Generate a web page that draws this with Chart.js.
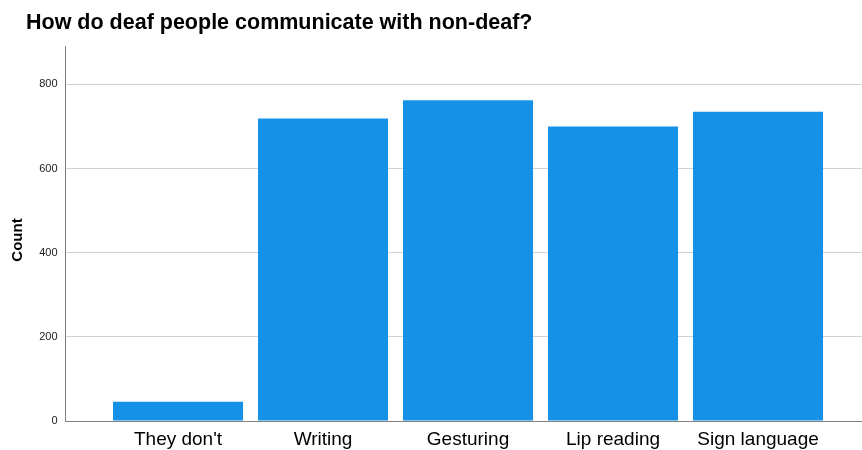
<!DOCTYPE html>
<html>
<head>
<meta charset="utf-8">
<script src="https://cdn.jsdelivr.net/npm/chart.js@4/dist/chart.umd.min.js"></script>
<style>
  html, body { margin: 0; padding: 0; background: #ffffff; }
  #wrap { width: 862px; height: 450px; position: relative; }
</style>
</head>
<body>
<div id="wrap"><canvas id="c" width="862" height="450"></canvas></div>
<script>
const categories = ["They don't", "Writing", "Gesturing", "Lip reading", "Sign language"];
const counts = [46, 719, 762, 700, 735];
const yTicks = [0, 200, 400, 600, 800];
const chartTitle = "How do deaf people communicate with non-deaf?";
const yTitle = "Count";

const FONT = "'Liberation Sans', Arial, sans-serif";

const textPlugin = {
  id: 'chartTexts',
  afterDraw(chart) {
    const ctx = chart.ctx;
    ctx.save();
    ctx.font = "bold 21.5px " + FONT;
    ctx.fillStyle = "#000000";
    ctx.textAlign = "left";
    ctx.textBaseline = "alphabetic";
    ctx.fillText(chartTitle, 26, 28.5);
    ctx.restore();

    ctx.save();
    ctx.font = "bold 15px " + FONT;
    ctx.fillStyle = "#000000";
    ctx.textAlign = "center";
    ctx.textBaseline = "middle";
    ctx.translate(18, 240);
    ctx.rotate(-Math.PI / 2);
    ctx.fillText(yTitle, 0, 0);
    ctx.restore();
  }
};

new Chart(document.getElementById('c'), {
  type: 'bar',
  data: {
    datasets: [{
      data: counts.map((v, i) => ({ x: i, y: v })),
      backgroundColor: '#1591e8',
      borderColor: '#1591e8',
      borderWidth: 0,
      categoryPercentage: 1.0,
      barPercentage: 0.8966
    }]
  },
  plugins: [textPlugin],
  options: {
    responsive: false,
    animation: false,
    devicePixelRatio: 1,
    layout: { padding: { top: 46, left: 0, right: 0, bottom: 0 } },
    plugins: {
      legend: { display: false },
      title: { display: false },
      tooltip: { enabled: false }
    },
    scales: {
      x: {
        type: 'linear',
        offset: false,
        min: -0.776,
        max: 4.717,
        afterBuildTicks(scale) { scale.ticks = categories.map((_, i) => ({ value: i })); },
        afterFit(scale) { scale.height = 29; },
        ticks: {
          autoSkip: false,
          maxRotation: 0,
          padding: 7,
          color: '#000000',
          font: { family: FONT, size: 19 },
          callback: (v) => categories[v] ?? ''
        },
        grid: { display: false, drawTicks: false, offset: false },
        border: { display: true, color: '#7f7f7f', width: 1 }
      },
      y: {
        min: 0,
        max: 891,
        afterBuildTicks(scale) { scale.ticks = yTicks.map(v => ({ value: v })); },
        afterFit(scale) { scale.width = 65.5; },
        ticks: {
          padding: 8,
          color: '#222222',
          font: { family: FONT, size: 11 }
        },
        grid: {
          drawTicks: false,
          color: (c) => (c.tick && c.tick.value === 0) ? 'rgba(0,0,0,0)' : '#d2d2d2',
          lineWidth: 1
        },
        border: { display: true, color: '#7f7f7f', width: 1 },
        title: { display: false }
      }
    }
  }
});
</script>
</body>
</html>
